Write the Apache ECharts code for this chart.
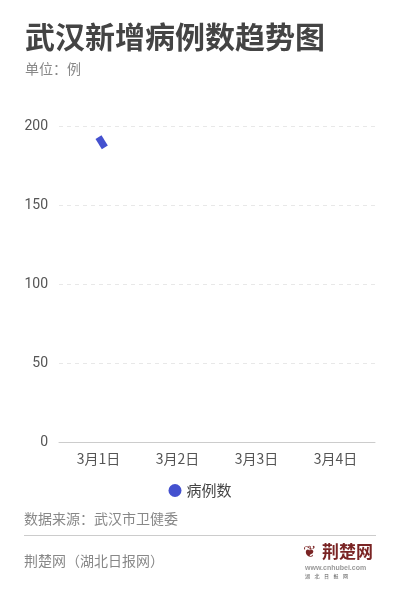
<!DOCTYPE html>
<html>
<head>
<meta charset="utf-8">
<script src="https://cdn.jsdelivr.net/npm/echarts@6/dist/echarts.min.js"></script>
<style>
  html, body { margin: 0; padding: 0; background: #fff; }
  #main { width: 400px; height: 593px; }
</style>
</head>
<body>
<div id="main"></div>
<script>
// 数据
var days = ['3月1日', '3月2日', '3月3日', '3月4日'];
var yTicks = [0, 50, 100, 150, 200];
// 画面中只露出了折线起点的一小段（位置: 类目序号, 数值）
var linePos = [0, 0.08];
var lineVal = [193, 186.5];

var chart = echarts.init(document.getElementById('main'));
var fontCN = '"Noto Sans CJK SC", "Noto Sans", sans-serif';

var option = {
    backgroundColor: '#fff',
    animation: false,
    title: {
        text: '武汉新增病例数趋势图',
        subtext: '单位：例',
        left: 20,
        top: 17,
        itemGap: 10,
        textStyle: { color: '#444', fontSize: 30, fontWeight: 'bold', fontFamily: fontCN },
        subtextStyle: { color: '#888', fontSize: 14, fontFamily: fontCN }
    },
    legend: {
        bottom: 90,
        left: 'center',
        icon: 'circle',
        itemWidth: 13,
        itemHeight: 13,
        itemGap: 6,
        textStyle: { color: '#444', fontSize: 15, fontFamily: fontCN },
        data: ['病例数']
    },
    grid: { left: 59, right: 25, top: 126, bottom: 151 },
    xAxis: [{
        type: 'category',
        data: days,
        boundaryGap: true,
        axisLine: { lineStyle: { color: '#ccc' } },
        axisTick: { alignWithLabel: true, length: 5, lineStyle: { color: '#ccc' } },
        axisLabel: { color: '#555', fontSize: 14, margin: 10, fontFamily: fontCN }
    }, {
        type: 'value',
        min: -0.5,
        max: days.length - 0.5,
        show: false
    }],
    yAxis: {
        type: 'value',
        min: yTicks[0],
        max: yTicks[yTicks.length - 1],
        interval: 50,
        axisLine: { show: false },
        axisTick: { show: false },
        axisLabel: { color: '#555', fontSize: 14, margin: 11, fontFamily: 'Roboto, sans-serif' },
        splitLine: { lineStyle: { color: '#e8e8e8', type: [4, 4] } }
    },
    series: [{
        name: '病例数',
        type: 'line',
        xAxisIndex: 1,
        data: linePos.map(function (p, i) { return [p, lineVal[i]]; }),
        showSymbol: false,
        itemStyle: { color: '#4451cf' },
        lineStyle: { color: '#4451cf', width: 7, cap: 'butt' }
    }],
    graphic: [
        {
            type: 'text', left: 24, top: 512,
            style: { text: '数据来源：武汉市卫健委', fill: '#888', fontSize: 14, fontFamily: fontCN }
        },
        {
            type: 'rect', shape: { x: 24, y: 535, width: 352, height: 1 },
            style: { fill: '#ccc' }
        },
        {
            type: 'text', left: 24, top: 554,
            style: { text: '荆楚网（湖北日报网）', fill: '#888', fontSize: 14, fontFamily: fontCN }
        },
        {
            type: 'text', left: 303, top: 545,
            style: { text: '❦', fill: '#7a2424', fontSize: 16 }
        },
        {
            type: 'text', left: 322, top: 543,
            style: { text: '荆楚网', fill: '#7a2424', fontSize: 17, fontWeight: 'bold', fontFamily: fontCN }
        },
        {
            type: 'text', left: 305, top: 565,
            style: { text: 'www.cnhubei.com', fill: '#999', fontSize: 7, fontWeight: 'bold', fontFamily: 'sans-serif' }
        },
        {
            type: 'text', left: 305, top: 574,
            style: { text: '湖    北    日    报    网', fill: '#555', fontSize: 5, fontFamily: fontCN }
        }
    ]
};

chart.setOption(option);
window.addEventListener('resize', function () {
    chart.resize();
});
</script>
</body>
</html>
